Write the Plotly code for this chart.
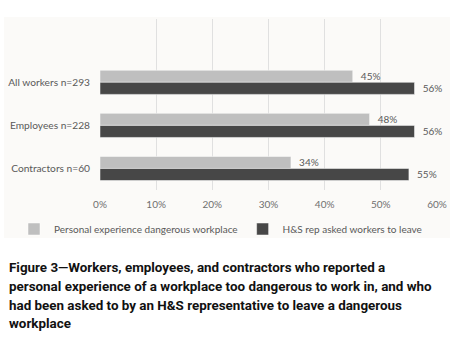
import plotly.graph_objects as go

categories = ["All workers n=293", "Employees n=228", "Contractors n=60"]
personal = [45, 48, 34]
hs_rep = [56, 56, 55]
series_names = ["Personal experience dangerous workplace", "H&S rep asked workers to leave"]
tick_vals = [0, 10, 20, 30, 40, 50, 60]
tick_text = ["0%", "10%", "20%", "30%", "40%", "50%", "60%"]
caption_lines = [
    "Figure 3\u2014Workers, employees, and contractors who reported a",
    "personal experience of a workplace too dangerous to work in, and who",
    "had been asked to by an H&S representative to leave a dangerous",
    "workplace",
]

W, H = 464, 338
L, R, T, B = 100, 27, 19, 148
ph = H - T - B
pw = W - L - R

def py(p):
    return (H - B - p) / ph

def px(p):
    return (p - L) / pw

fig = go.Figure()
fig.add_trace(go.Bar(
    y=categories, x=personal, name=series_names[0], orientation="h",
    marker=dict(color="#bfbfbf", line=dict(color="#ffffff", width=0.5)),
    text=[f"  {v}%" for v in personal], textposition="outside",
    textfont=dict(family="Lato", size=10, color="#595959"), cliponaxis=False,
))
fig.add_trace(go.Bar(
    y=categories, x=hs_rep, name=series_names[1], orientation="h",
    marker=dict(color="#474747", line=dict(color="#ffffff", width=0.5)),
    text=[f"  {v}%" for v in hs_rep], textposition="outside",
    textfont=dict(family="Lato", size=10, color="#595959"), cliponaxis=False,
))

fig.add_shape(type="rect", xref="paper", yref="paper",
              x0=px(4), x1=px(450), y0=py(238), y1=py(17),
              fillcolor="#fbfaf8", line=dict(width=0), layer="below")

for i, line in enumerate(caption_lines):
    fig.add_annotation(xref="paper", yref="paper", x=px(7), y=py(267.5 + i * 18.8),
                       xanchor="left", yanchor="middle", align="left", showarrow=False,
                       text=f"<b>{line}</b>",
                       font=dict(family="Roboto", size=13.4, color="#111111"))

fig.update_layout(
    width=W, height=H,
    margin=dict(l=L, r=R, t=T, b=B, pad=0, autoexpand=False),
    paper_bgcolor="white", plot_bgcolor="rgba(0,0,0,0)",
    barmode="group", bargap=0.44, bargroupgap=0,
    showlegend=True,
    legend=dict(orientation="h", x=px(14), y=py(229), xanchor="left", yanchor="middle",
                font=dict(family="Lato", size=10, color="#595959"),
                bgcolor="rgba(0,0,0,0)", itemwidth=30, tracegroupgap=0),
    xaxis=dict(range=[0, 60], tickvals=tick_vals, ticktext=tick_text, automargin=False,
               showgrid=True, gridcolor="#e0e0e0", gridwidth=1, zeroline=False,
               showline=False, ticks="", ticklabelstandoff=7,
               tickfont=dict(family="Lato", size=10, color="#6f6f6f")),
    yaxis=dict(type="category", categoryorder="array", categoryarray=categories, automargin=False,
               range=[2.5, -1.47], showgrid=False, zeroline=False, showline=False, ticks="",
               tickfont=dict(family="Lato", size=10.2, color="#595959"), ticklabelstandoff=9),
)

fig.write_html("out.html", config={"displayModeBar": False},
               post_script="document.body.style.margin='0px';")
